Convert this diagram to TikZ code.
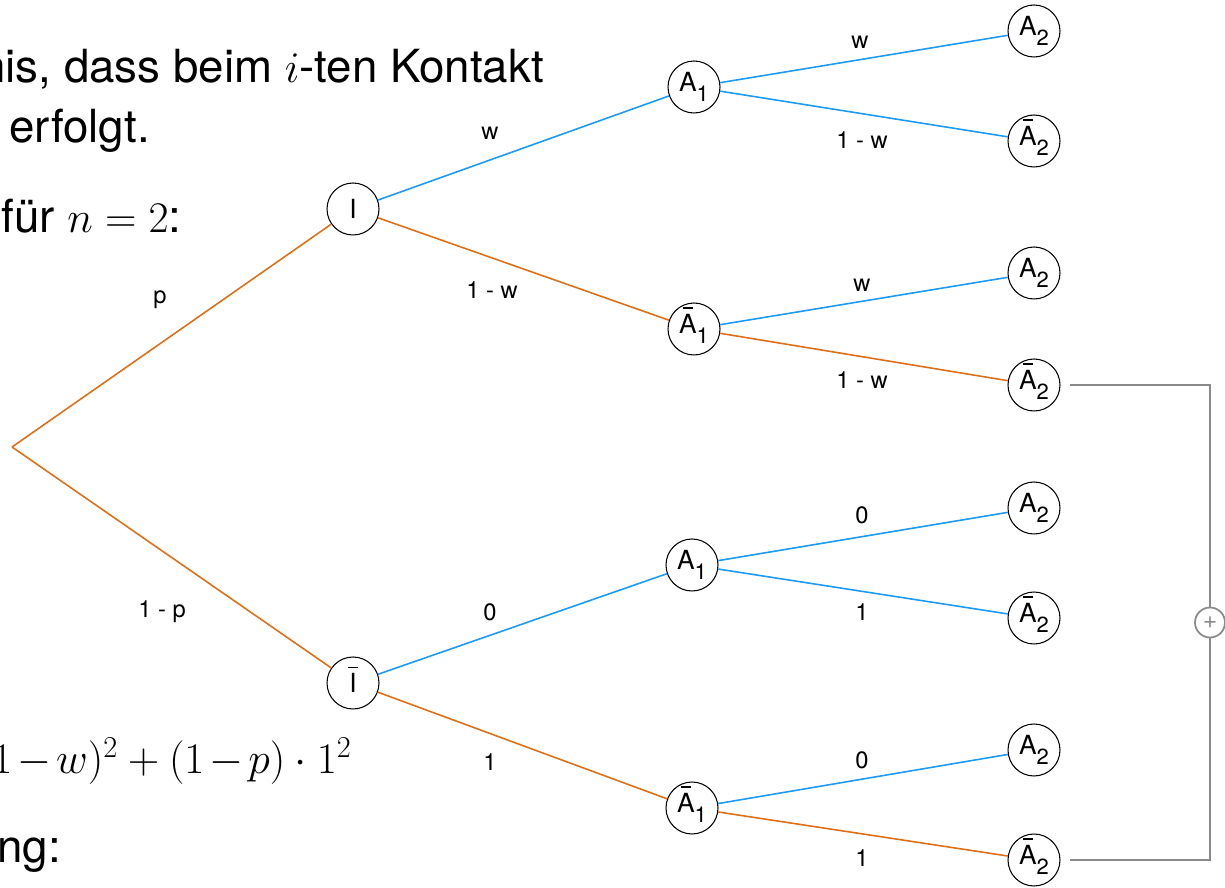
\documentclass[tikz,border=0pt]{standalone}
\usepackage{fontspec}
\setmainfont{TeX Gyre Heros}
\usetikzlibrary{positioning}
\definecolor{edgeblue}{HTML}{1B9AF7}
\definecolor{edgeorange}{HTML}{DE6F17}
\definecolor{sumgray}{HTML}{8A8A8A}
\newcommand{\lsub}[1]{\raisebox{-0.4em}{\fontsize{12.5}{13}\selectfont #1}}
\newcommand{\barred}[2]{\ooalign{#1\cr\hidewidth\raisebox{0.93em}{\rule{#2}{0.06em}}\hidewidth\cr}}
\newcommand{\evt}[2]{#1\lsub{#2}}
\newcommand{\evtbar}[2]{\barred{#1}{0.36em}\lsub{#2}}

\begin{document}
\begin{tikzpicture}[x=0.02cm,y=-0.02cm,
  ev/.style={circle,draw,line width=0.6pt,minimum size=1.04cm,inner sep=0pt,
    font=\fontsize{15}{16}\selectfont},
  lab/.style={font=\fontsize{13.5}{14}\selectfont,inner sep=1pt},
  txt/.style={font=\fontsize{26}{30}\selectfont,inner sep=0pt},
  blueedge/.style={draw=edgeblue,line width=0.9pt},
  orangeedge/.style={draw=edgeorange,line width=0.9pt},
  sumline/.style={draw=sumgray,line width=1pt}]
\useasboundingbox (0,0) rectangle (1225,888);
\clip (0,0) rectangle (1225,888);

\node[txt,anchor=base west] (line1) at (-20,83) {nis, dass beim $i$-ten Kontakt};
\node[txt,anchor=base west] (line2) at (9,143) {erfolgt.};
\node[txt,anchor=base west] (line3) at (1,233) {für $n=2$:};
\node[txt,anchor=base west] (line4) at (-8,773)
  {$1\mkern2mu{-}\mkern2mu w)^2+(1\mkern2mu{-}\mkern2mu p)\cdot 1^2$};
\node[txt,anchor=base west] (line5) at (-3,862) {ng:};

\coordinate (root) at (12,447);
\node[ev] (I) at (353,209) {I};
\node[ev] (Ib) at (353,683) {\barred{I}{0.4em}};
\node[ev] (A1u) at (694,87) {\evt{A}{1}};
\node[ev] (Ab1u) at (694,329) {\evtbar{A}{1}};
\node[ev] (A1d) at (692,565) {\evt{A}{1}};
\node[ev] (Ab1d) at (692,808) {\evtbar{A}{1}};
\node[ev] (L1) at (1034,31) {\evt{A}{2}};
\node[ev] (L2) at (1034,141) {\evtbar{A}{2}};
\node[ev] (L3) at (1034,273) {\evt{A}{2}};
\node[ev] (L4) at (1034,385) {\evtbar{A}{2}};
\node[ev] (L5) at (1034,508) {\evt{A}{2}};
\node[ev] (L6) at (1034,618) {\evtbar{A}{2}};
\node[ev] (L7) at (1034,750) {\evt{A}{2}};
\node[ev] (L8) at (1034,860) {\evtbar{A}{2}};

\draw[orangeedge] (root) -- (I);
\draw[orangeedge] (root) -- (Ib);
\draw[blueedge] (I) -- (A1u);
\draw[orangeedge] (I) -- (Ab1u);
\draw[blueedge] (Ib) -- (A1d);
\draw[orangeedge] (Ib) -- (Ab1d);
\draw[blueedge] (A1u) -- (L1);
\draw[blueedge] (A1u) -- (L2);
\draw[blueedge] (Ab1u) -- (L3);
\draw[orangeedge] (Ab1u) -- (L4);
\draw[blueedge] (A1d) -- (L5);
\draw[blueedge] (A1d) -- (L6);
\draw[blueedge] (Ab1d) -- (L7);
\draw[orangeedge] (Ab1d) -- (L8);

\node[lab] (pI) at (160,300) {p};
\node[lab] (pIb) at (162,612) {1 - p};
\node[lab] (wI) at (490,133) {w};
\node[lab] (wIb) at (492,290) {1 - w};
\node[lab] (zIb) at (490,612) {0};
\node[lab] (oIb) at (490,762) {1};
\node[lab] (w1) at (860,42) {w};
\node[lab] (w2) at (862,140) {1 - w};
\node[lab] (w3) at (862,285) {w};
\node[lab] (w4) at (862,380) {1 - w};
\node[lab] (w5) at (862,515) {0};
\node[lab] (w6) at (862,612) {1};
\node[lab] (w7) at (862,760) {0};
\node[lab] (w8) at (862,858) {1};

\node[circle,draw=sumgray,line width=1pt,minimum size=0.6cm,inner sep=0pt,
  text=sumgray,font=\fontsize{14}{14}\selectfont] (plus) at (1210,622.5) {+};
\coordinate (s1) at (1070,385);
\coordinate (s2) at (1070,860);
\draw[sumline] (s1) -| (plus);
\draw[sumline] (s2) -| (plus);
\end{tikzpicture}
\end{document}
